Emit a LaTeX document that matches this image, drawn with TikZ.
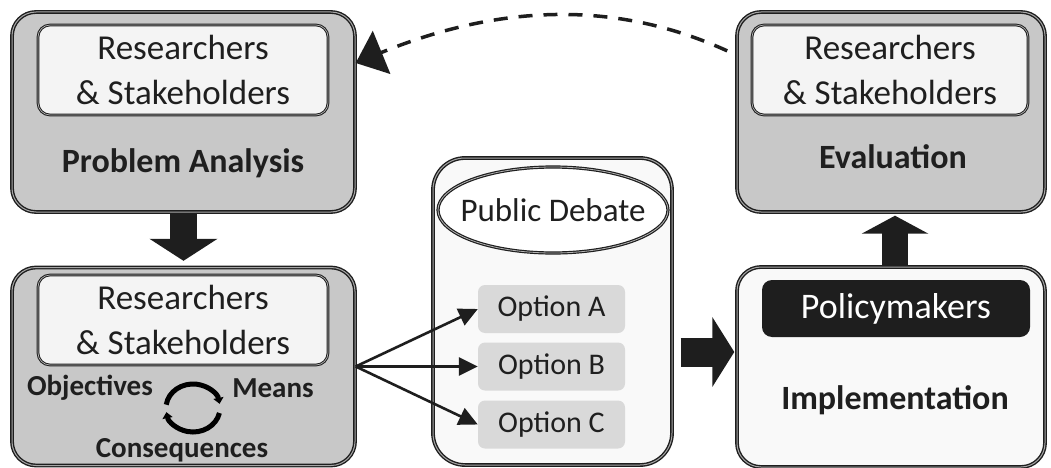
\documentclass[tikz,border=0pt]{standalone}
\usepackage{fontspec}
\setmainfont{Carlito}
\usetikzlibrary{arrows.meta,shapes.geometric}
\definecolor{boxgray}{HTML}{C8C8C8}
\definecolor{inwhite}{HTML}{F4F4F4}
\definecolor{paper}{HTML}{F9F9F9}
\definecolor{optgray}{HTML}{D9D9D9}
\definecolor{ink}{HTML}{1E1E1E}
\definecolor{txt}{HTML}{1F1F1F}
\begin{document}
\begin{tikzpicture}[x=1pt,y=-1pt,
  bigbox/.style={draw=ink, double=gray!70, double distance=1pt, line width=1.4pt,
    rounded corners=24pt, inner sep=0pt},
  graybox/.style={bigbox, fill=boxgray, minimum width=343pt, minimum height=200pt},
  whitebox/.style={bigbox, fill=paper, minimum width=308pt, minimum height=200pt},
  innerbox/.style={draw=ink, double=gray!60, double distance=0.7pt, line width=1pt,
    rounded corners=12pt, fill=inwhite, inner sep=0pt, align=center, text=txt,
    font=\fontsize{35}{45}\selectfont},
  boldlbl/.style={font=\fontsize{34}{40}\selectfont\bfseries, text=txt, inner sep=0pt},
  smallbold/.style={font=\fontsize{29}{34}\selectfont\bfseries, text=txt, inner sep=0pt},
  optbox/.style={fill=optgray, rounded corners=7pt, minimum width=147pt, minimum height=48pt,
    inner sep=0pt, text=txt, font=\fontsize{30}{36}\selectfont},
  fatarrow/.style={draw=ink, line width=#1},
  fanarrow/.style={draw=ink, line width=2.6pt, -{Triangle[width=18pt,length=19pt]}},
  cycarrow/.style={draw=black, line width=5pt, -{Triangle[width=10pt,length=6pt]}},
  dasharrow/.style={draw=ink, line width=3.5pt, dash pattern=on 14pt off 11pt,
    -{Triangle[width=46pt,length=28pt]}}
]
\useasboundingbox (0,0) rectangle (1051,468);

% Problem Analysis
\node[graybox] (pa) at (183.5,112) {};
\node[innerbox, minimum width=290pt, minimum height=90pt] (pain) at (183,70) {Researchers\\\& Stakeholders};
\node[boldlbl] (palbl) at (183,163) {Problem Analysis};

% Objectives box
\node[graybox, minimum height=198pt] (ob) at (183.5,366.5) {};
\node[innerbox, minimum width=290pt, minimum height=90pt] (obin) at (183,320) {Researchers\\\& Stakeholders};
\node[smallbold] (objl) at (90,388) {Objectives};
\node[smallbold] (meansl) at (273,388) {Means};
\node[smallbold] (consl) at (182,450) {Consequences};
\coordinate (cyc) at (193,408);
\draw[cycarrow] (cyc) ++(172:27pt and 24pt) arc[start angle=172, end angle=10, x radius=27pt, y radius=24pt];
\draw[cycarrow] (cyc) ++(-12:27pt and 24pt) arc[start angle=-12, end angle=-170, x radius=27pt, y radius=24pt];

% Public debate
\node[bigbox, fill=paper, rounded corners=32pt, minimum width=239pt, minimum height=307pt] (deb) at (552.5,311.5) {};
\node[draw=ink, double=gray!60, double distance=0.8pt, line width=1.2pt, ellipse, fill=white,
  minimum width=230pt, minimum height=86pt, inner sep=0pt] (debtop) at (553,210) {};
\node[text=txt, inner sep=0pt, font=\fontsize{33}{40}\selectfont] (debtxt) at (debtop.center) {Public Debate};
\node[optbox] (oa) at (551.5,309) {Option A};
\node[optbox] (obb) at (551.5,366.5) {Option B};
\node[optbox] (oc) at (551.5,424.5) {Option C};

% Implementation
\node[whitebox] (impl) at (891,367) {};
\node[fill=ink, rounded corners=10pt, minimum width=268pt, minimum height=57pt, inner sep=0pt,
  text=white, font=\fontsize{36}{40}\selectfont] (pm) at (896,308.5) {Policymakers};
\node[boldlbl] (impll) at (895,400) {Implementation};

% Evaluation
\node[whitebox, fill=boxgray] (ev) at (891,112) {};
\node[innerbox, minimum width=276pt, minimum height=90pt] (evin) at (890,70) {Researchers\\\& Stakeholders};
\node[boldlbl] (evl) at (893,157) {Evaluation};

% fat arrows
\draw[fatarrow=27pt, -{Triangle[width=67pt,length=22pt]}, shorten >=6pt] (pa.south) -- (ob.north);
\coordinate (ry) at (0,352);
\draw[fatarrow=29pt, -{Triangle[width=69pt,length=22pt]}, shorten <=8pt, shorten >=2pt] (deb.east |- ry) -- (impl.west |- ry);
\coordinate (ux) at (895,0);
\draw[fatarrow=26pt, -{Triangle[width=66pt,length=18pt]}, shorten >=3pt] (impl.north -| ux) -- (ev.south -| ux);

% fan arrows
\draw[fanarrow] (ob.east) -- (oa.west);
\draw[fanarrow] (ob.east) -- (obb.west);
\draw[fanarrow] (ob.east) -- (oc.west);

% dashed feedback
\coordinate (ds) at (0,55);
\coordinate (de) at (0,63);
\draw[dasharrow, shorten <=10pt] (ev.west |- ds) .. controls (620,2) and (505,2) .. (pa.east |- de);
\end{tikzpicture}
\end{document}
